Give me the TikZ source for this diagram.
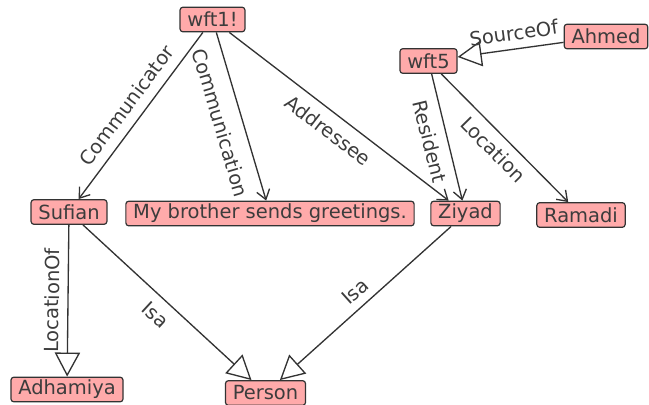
\documentclass[tikz,border=0pt]{standalone}
\usepackage{fontspec}
\setmainfont{DejaVu Sans}
\usetikzlibrary{arrows.meta}
\definecolor{boxfill}{HTML}{FFAAAA}
\definecolor{ink}{HTML}{333333}
\definecolor{txt}{HTML}{3C3C3C}
\tikzset{
  concept/.style={draw=ink, fill=boxfill, rounded corners=2.2pt, line width=0.9pt,
    inner xsep=5.5pt, inner ysep=1pt, minimum height=18.5pt, text=txt,
    font=\fontsize{14.6}{17}\selectfont},
  rel/.style={draw=ink, line width=1pt,
    -{Straight Barb[length=7pt,width=10pt,line width=1pt]}},
  isa/.style={draw=ink, line width=1pt,
    -{Triangle[open,length=18pt,width=19pt,line width=1pt]}},
  lbl/.style={sloped, text=txt, inner sep=2pt,
    font=\fontsize{14.6}{17}\selectfont}
}
\begin{document}
\begin{tikzpicture}[x=0.75pt,y=-0.75pt]
\useasboundingbox (0,0) rectangle (649,404);

% concept nodes
\node[concept] (wft1)   at (212.5,19.5) {wft1!};
\node[concept] (wft5)   at (428.5,61)   {wft5};
\node[concept] (ahmed)  at (606,36.5)   {Ahmed};
\node[concept] (sufian) at (69,212)     {Sufian};
\node[concept] (msg)    at (270,213.5)  {My brother sends greetings.};
\node[concept] (ziyad)  at (465.5,213.5){Ziyad};
\node[concept] (ramadi) at (581,215)    {Ramadi};
\node[concept] (adham)  at (67,389.5)   {Adhamiya};
\node[concept] (person) at (265.5,393)  {Person};

% relations
\draw[rel] (wft1) -- node[lbl, above=5pt] {Communicator} (sufian);
\draw[rel] (wft1) -- node[lbl, below=8pt] {Communication} (msg);
\draw[rel] (wft1) -- node[lbl, below=5pt] {Addressee} (ziyad);
\draw[rel] (wft5) -- node[lbl, below=5pt] {Resident} (ziyad);
\draw[rel] (wft5) -- node[lbl, below=4pt] {Location} (ramadi);
\draw[isa] (ahmed) -- node[lbl, above=4pt, pos=0.45] {SourceOf} (wft5);
\draw[isa] (sufian) -- node[lbl, above=4pt] {LocationOf} (adham);
\draw[isa] (sufian) -- node[lbl, below=5pt] {Isa} (person);
\draw[isa] (ziyad) -- node[lbl, above=4pt] {Isa} (person);
\end{tikzpicture}
\end{document}
